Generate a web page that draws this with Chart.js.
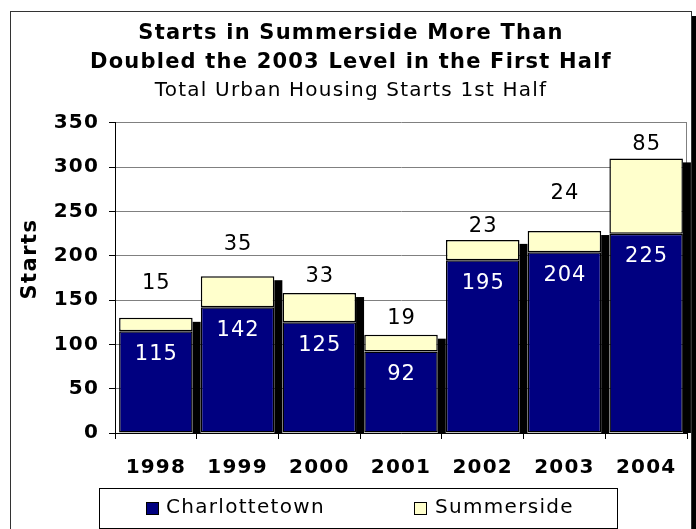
<!DOCTYPE html>
<html>
<head>
<meta charset="utf-8">
<script src="https://cdn.jsdelivr.net/npm/chart.js@4/dist/chart.umd.min.js"></script>
<style>
  html, body { margin: 0; padding: 0; background: #fff; }
  #wrap { width: 696px; height: 529px; }
</style>
</head>
<body>
<div id="wrap"><canvas id="startsChart" width="696" height="529"></canvas></div>
<script>
// data
const years = ["1998", "1999", "2000", "2001", "2002", "2003", "2004"];
const charlottetown = [115, 142, 125, 92, 195, 204, 225];
const summerside = [15, 35, 33, 19, 23, 24, 85];
const yMax = 350;
const yStep = 50;

const seriesNames = ["Charlottetown", "Summerside"];
const seriesColors = ["#000080", "#FFFFCC"];

// how far above the stack each Summerside label sits (they were moved by hand in the original)
const topLabelLift = [35, 33, 17, 17, 14, 38, 15];

const FONT = "'DejaVu Sans', Verdana, sans-serif";

/* ---------- FRAME + PLOT BORDER + SHADOWS ---------- */
const framePlugin = {
    id: "frame",
    beforeDraw(chart) {
        const ctx = chart.ctx;
        ctx.save();
        ctx.fillStyle = "#fff";
        ctx.fillRect(0, 0, chart.width, chart.height);
        ctx.strokeStyle = "#333";
        ctx.lineWidth = 1;
        ctx.strokeRect(10.5, 11.5, 681, 540);
        ctx.fillStyle = "#000";
        ctx.fillRect(692, 16, 4, chart.height - 16);
        ctx.restore();
        // the original text is a bit wider than DejaVu, open it up for titles and ticks
        ctx.letterSpacing = "1.2px";
    },
    beforeDatasetsDraw(chart) {
        const ctx = chart.ctx;
        const area = chart.chartArea;
        ctx.letterSpacing = "0px";
        ctx.save();
        // grey right edge of the plot area
        ctx.strokeStyle = "#808080";
        ctx.lineWidth = 1;
        ctx.beginPath();
        ctx.moveTo(Math.round(area.right) - 0.5, area.top);
        ctx.lineTo(Math.round(area.right) - 0.5, area.bottom);
        ctx.stroke();

        // black drop shadow to the right of every stack
        const base = chart.scales.y.getPixelForValue(0);
        chart.getDatasetMeta(1).data.forEach((bar) => {
            const right = bar.x + bar.width / 2;
            ctx.fillStyle = "#000";
            ctx.fillRect(right, bar.y + 4, 8, base - bar.y - 4);
        });
        ctx.restore();
    }
};

/* ---------- VALUE LABELS ---------- */
const labelPlugin = {
    id: "valueLabels",
    afterDatasetsDraw(chart) {
        const ctx = chart.ctx;
        ctx.save();
        ctx.font = "21px " + FONT;
        ctx.letterSpacing = "1px";
        ctx.textAlign = "center";
        ctx.textBaseline = "middle";

        chart.getDatasetMeta(0).data.forEach((bar, i) => {
            ctx.fillStyle = "#fff";
            ctx.fillText(String(charlottetown[i]), bar.x + 0.5, bar.y + 23);
        });
        chart.getDatasetMeta(1).data.forEach((bar, i) => {
            ctx.fillStyle = "#000";
            ctx.fillText(String(summerside[i]), bar.x + 0.5, bar.y - topLabelLift[i] + 1);
        });
        ctx.restore();
    }
};

/* ---------- BOXED LEGEND + AXIS TITLE ---------- */
const legendPlugin = {
    id: "boxLegend",
    afterDraw(chart) {
        const ctx = chart.ctx;
        ctx.save();
        ctx.strokeStyle = "#000";
        ctx.lineWidth = 1;
        ctx.strokeRect(99.5, 488.5, 518, 40);

        const items = [
            { box: 146, text: 166 },
            { box: 414, text: 435 }
        ];
        ctx.font = "20px " + FONT;
        ctx.letterSpacing = "1.3px";
        ctx.textBaseline = "middle";
        ctx.textAlign = "left";
        items.forEach((it, i) => {
            ctx.fillStyle = seriesColors[i];
            ctx.fillRect(it.box, 502, 12, 12);
            ctx.strokeStyle = "#000";
            ctx.strokeRect(it.box + 0.5, 502.5, 12, 12);
            ctx.fillStyle = "#000";
            ctx.fillText(seriesNames[i], it.text, 508);
        });

        // y axis title sits a little above the middle of the axis in the original
        ctx.translate(31, 259);
        ctx.rotate(-Math.PI / 2);
        ctx.font = "bold 21px " + FONT;
        ctx.letterSpacing = "1.5px";
        ctx.textAlign = "center";
        ctx.fillText("Starts", 0, 0);
        ctx.restore();
    }
};

new Chart(document.getElementById("startsChart"), {
    type: "bar",
    data: {
        labels: years,
        datasets: [
            {
                label: seriesNames[0],
                data: charlottetown,
                backgroundColor: seriesColors[0],
                borderColor: "#000",
                borderWidth: 1.5,
                borderSkipped: false
            },
            {
                label: seriesNames[1],
                data: summerside,
                backgroundColor: seriesColors[1],
                borderColor: "#000",
                borderWidth: 1.5,
                borderSkipped: false
            }
        ]
    },
    options: {
        responsive: false,
        animation: false,
        // left padding + axis width = plot left edge (115); keeps the title centred in the frame
        layout: { padding: { left: 15, right: 9, top: 19, bottom: 0 } },
        datasets: {
            bar: { categoryPercentage: 1, barPercentage: 0.9 }
        },
        plugins: {
            legend: { display: false },
            tooltip: { enabled: false },
            title: {
                display: true,
                text: ["Starts in Summerside More Than", "Doubled the 2003 Level in the First Half"],
                color: "#000",
                font: { family: FONT, size: 21, weight: "bold", lineHeight: 1.38 },
                padding: { top: 0, bottom: 0 }
            },
            subtitle: {
                display: true,
                text: "Total Urban Housing Starts 1st Half",
                color: "#000",
                font: { family: FONT, size: 20, weight: "normal", lineHeight: 1.2 },
                padding: { top: 2, bottom: 20 }
            }
        },
        scales: {
            x: {
                stacked: true,
                afterFit(scale) { scale.height = 96; },
                grid: {
                    offset: true,
                    drawOnChartArea: false,
                    color: "#000",
                    tickLength: 6
                },
                border: { color: "#000", width: 1 },
                ticks: {
                    color: "#000",
                    padding: 17,
                    font: { family: FONT, size: 20, weight: "bold" }
                }
            },
            y: {
                stacked: true,
                min: 0,
                max: yMax,
                afterFit(scale) { scale.width = 100; },
                ticks: {
                    stepSize: yStep,
                    color: "#000",
                    padding: 10,
                    font: { family: FONT, size: 20, weight: "bold" }
                },
                grid: {
                    color: "#808080",
                    tickColor: "#000",
                    tickLength: 6
                },
                border: { color: "#000", width: 1 }
            }
        }
    },
    plugins: [framePlugin, labelPlugin, legendPlugin]
});
</script>
</body>
</html>
